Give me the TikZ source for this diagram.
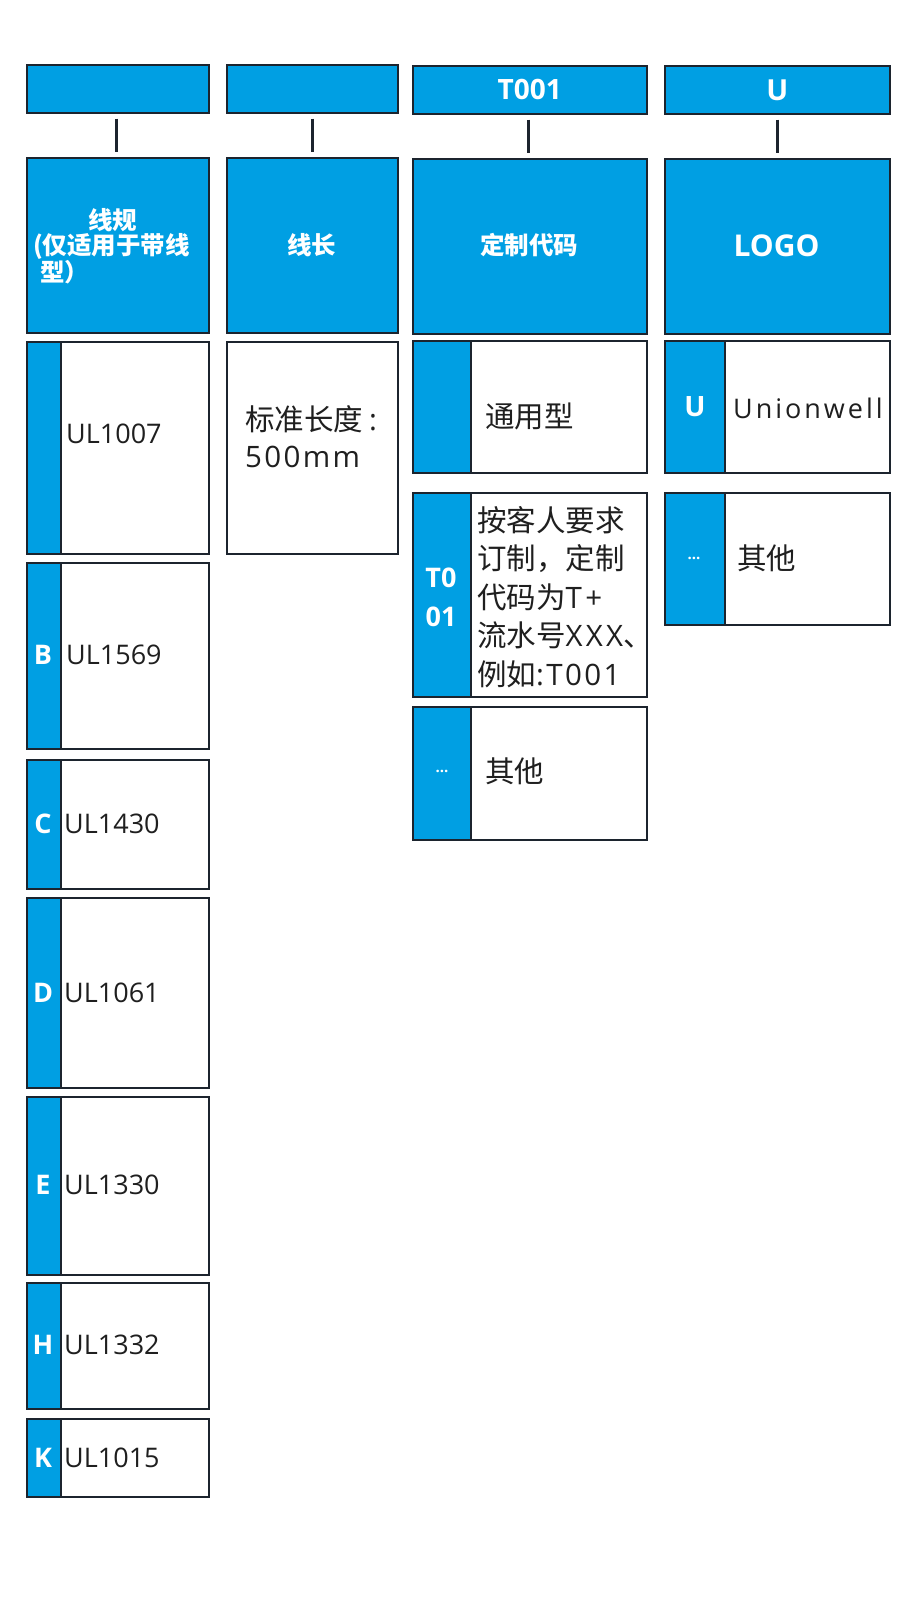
\documentclass[tikz,border=0pt]{standalone}
\usepackage{fontspec}
\setmainfont{Noto Sans CJK SC}
\newfontfamily\lat{Open Sans}
\newfontfamily\latw{Open Sans}[LetterSpace=8]
\newfontfamily\latww{Open Sans}[LetterSpace=11]
\definecolor{cblue}{RGB}{0,159,227}
\definecolor{cline}{RGB}{28,36,46}
\tikzset{
  bluebox/.style={draw=cline, line width=1.6pt, fill=cblue, inner sep=0pt, anchor=north west},
  whitebox/.style={draw=cline, line width=1.6pt, fill=white, inner sep=0pt, anchor=north west},
  link/.style={draw=cline, line width=2.8pt, shorten <=5pt, shorten >=5pt},
  wtxt/.style={text=white, inner sep=0pt},
  btxt/.style={text=black!88, inner sep=0pt},
  wbig/.style={wtxt, font=\lat\bfseries\fontsize{27}{27}\selectfont},
  wcjk/.style={wtxt, font=\bfseries\fontsize{24.5}{25}\selectfont},
  blat/.style={btxt, anchor=west, font=\lat\fontsize{27}{27}\selectfont},
  bcjk/.style={btxt, anchor=west, font=\fontsize{29.5}{38.5}\selectfont, align=left},
  dots/.style={wtxt, font=\lat\bfseries\fontsize{15}{15}\selectfont}
}
\newcommand\rbox[6]{\node[#2, minimum width={#5-#3}, minimum height={#6-#4}] (#1) at (#3,#4) {};}
% strip row: name, x1, xs, x2, y1, y2
\newcommand\srow[6]{%
  \rbox{#1}{whitebox}{#2}{#5}{#4}{#6}
  \rbox{#1s}{bluebox}{#2}{#5}{#3}{#6}}
\begin{document}
\begin{tikzpicture}[x=1pt, y=-1pt]
\fill[white] (0,0) rectangle (922,1612);
\useasboundingbox (0,0) rectangle (922,1612);

% top boxes
\rbox{t1}{bluebox}{26}{64}{208}{112}
\rbox{t2}{bluebox}{226}{64}{397}{112}
\rbox{t3}{bluebox}{412}{65}{646}{113}
\rbox{t4}{bluebox}{664}{65}{889}{113}
\node[wbig, font=\lat\fontsize{28}{28}\selectfont\bfseries] (t3t) at (t3.center) {T001};
\node[wbig, font=\lat\fontsize{29}{29}\selectfont\bfseries] (t4t) at (t4.center) {U};

% headers
\rbox{h1}{bluebox}{26}{157}{208}{332}
\rbox{h2}{bluebox}{226}{157}{397}{332}
\rbox{h3}{bluebox}{412}{158}{646}{333}
\rbox{h4}{bluebox}{664}{158}{889}{333}
\node[wcjk, align=left, anchor=west] (h1t) at (33,246)
  {\makebox[159pt][c]{线规}\\(仅适用于带线\\\hspace*{7pt}型）};
\node[wcjk] (h2t) at (311.5,245) {线长};
\node[wcjk] (h3t) at (529,245) {定制代码};
\node[wtxt, font=\lat\bfseries\fontsize{30}{30}\selectfont] (h4t) at (776.5,246) {LOGO};

% connectors
\draw[link] ([xshift=-1.5pt]t1.south) -- ([xshift=-1.5pt]h1.north);
\draw[link] (t2.south) -- (h2.north);
\draw[link] ([xshift=-1.5pt]t3.south) -- ([xshift=-1.5pt]h3.north);
\draw[link] (t4.south) -- (h4.north);

% column 1
\srow{a}{26}{60}{208}{341}{553}
\node[blat] (at) at (66,434) {UL1007};
\srow{b}{26}{60}{208}{562}{748}
\node[wbig] (bl) at (43,655) {B};
\node[blat] (bt) at (66,655) {UL1569};
\srow{c}{26}{60}{208}{759}{888}
\node[wbig] (cl) at (43,824) {C};
\node[blat] (ct) at (64,824) {UL1430};
\srow{d}{26}{60}{208}{897}{1087}
\node[wbig] (dl) at (43,993) {D};
\node[blat] (dt) at (64,993) {UL1061};
\srow{e}{26}{60}{208}{1096}{1274}
\node[wbig] (el) at (43,1185) {E};
\node[blat] (et) at (64,1185) {UL1330};
\srow{hh}{26}{60}{208}{1282}{1408}
\node[wbig] (hl) at (43,1345) {H};
\node[blat] (ht) at (64,1345) {UL1332};
\srow{k}{26}{60}{208}{1418}{1496}
\node[wbig] (kl) at (43,1458) {K};
\node[blat] (kt) at (64,1458) {UL1015};

% column 2
\rbox{len}{whitebox}{226}{341}{397}{553}
\node[bcjk, font=\fontsize{29.5}{37}\selectfont] (lent) at (245,436.5)
  {标准长度\hspace{6pt}{\lat :}\\{\latw 500mm}};

% column 3
\srow{g}{412}{470}{646}{340}{472}
\node[bcjk] (gt) at (485,416) {通用型};
\srow{tc}{412}{470}{646}{492}{696}
\node[wtxt, align=center, font=\lat\bfseries\fontsize{27}{39}\selectfont] (tcl) at (441,597) {T0\\01};
\node[bcjk] (tct) at (477,597)
  {按客人要求\\订制，定制\\代码为{\latww T+}\\流水号{\latww XXX}、\\例如{\latw :T001}};
\srow{o3}{412}{470}{646}{706}{839}
\node[dots] (o3l) at (442,771) {...};
\node[bcjk] (o3t) at (485,771) {其他};

% column 4
\srow{u}{664}{724}{889}{340}{472}
\node[wbig, font=\lat\bfseries\fontsize{28}{28}\selectfont] (ul) at (695,407) {U};
\node[btxt, anchor=west, font=\latww\fontsize{27}{27}\selectfont] (ut) at (733,408) {Unionwell};
\srow{o4}{664}{724}{889}{492}{624}
\node[dots] (o4l) at (694,558) {...};
\node[bcjk] (o4t) at (737,558) {其他};
\end{tikzpicture}
\end{document}
